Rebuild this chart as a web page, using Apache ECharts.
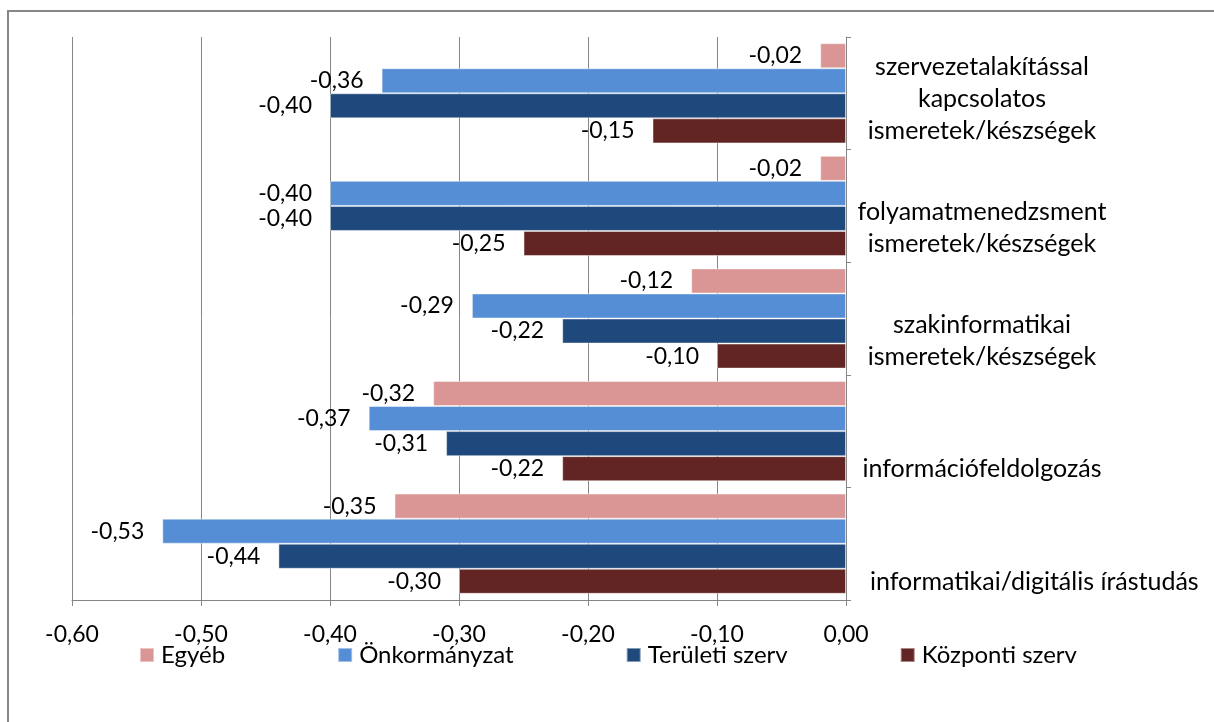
<!DOCTYPE html>
<html>
<head>
<meta charset="utf-8">
<script src="https://cdn.jsdelivr.net/npm/echarts@6/dist/echarts.min.js"></script>
<style>
  html, body { margin: 0; padding: 0; background: #fff; }
  #chart { width: 1214px; height: 722px; }
</style>
</head>
<body>
<div id="chart"></div>
<script>
// Competence areas, listed bottom to top as they sit on the axis
const categories = [
  'informatikai/digitális írástudás',
  'információfeldolgozás',
  'szakinformatikai\nismeretek/készségek',
  'folyamatmenedzsment\nismeretek/készségek',
  'szervezetalakítással\nkapcsolatos\nismeretek/készségek'
];

const seriesNames = ['Egyéb', 'Önkormányzat', 'Területi szerv', 'Központi szerv'];

// Values per category (same order as categories)
const egyeb        = [-0.35, -0.32, -0.12, -0.02, -0.02];
const onkormanyzat = [-0.53, -0.37, -0.29, -0.40, -0.36];
const teruleti     = [-0.44, -0.31, -0.22, -0.40, -0.40];
const kozponti     = [-0.30, -0.22, -0.10, -0.25, -0.15];

const seriesValues = [egyeb, onkormanyzat, teruleti, kozponti];
const colors = ['#DA9694', '#558ED5', '#1F497D', '#632523'];

const FONT = 'Lato';
const fmt = v => v.toFixed(2).replace('.', ',');

const chart = echarts.init(document.getElementById('chart'), null, { renderer: 'canvas' });

// Category labels hang below their band centre, last line at a fixed offset
const catLabelStyle = {
  verticalAlign: 'bottom',
  lineHeight: 32,
  fontFamily: FONT,
  fontSize: 25,
  color: '#000'
};

const yData = categories.map((c, i) => {
  if (i === 0) {
    // the long single-line label is pushed right against the axis
    return {
      value: c,
      textStyle: Object.assign({}, catLabelStyle, { align: 'left', padding: [0, 0, -54, -112] })
    };
  }
  return c;
});

chart.setOption({
  animation: false,
  backgroundColor: '#fff',
  textStyle: { fontFamily: FONT, color: '#000' },
  graphic: [{
    type: 'rect',
    shape: { x: 8, y: 11, width: 1300, height: 800 },
    style: { fill: 'none', stroke: '#878787', lineWidth: 2 },
    silent: true
  }],
  grid: { left: 72, right: 368, top: 37, bottom: 122, containLabel: false },
  legend: {
    data: seriesNames,
    left: 134,
    top: 638,
    itemWidth: 14,
    itemHeight: 14,
    itemGap: 112,
    icon: 'rect',
    textStyle: { fontFamily: FONT, fontSize: 24, color: '#000', padding: [0, 0, 0, 2] }
  },
  xAxis: {
    type: 'value',
    min: -0.6,
    max: 0,
    interval: 0.1,
    axisLine: { show: true, lineStyle: { color: '#868686', width: 1 } },
    axisTick: { show: true, length: 6, lineStyle: { color: '#868686' } },
    splitLine: { show: true, lineStyle: { color: '#868686', width: 1 } },
    axisLabel: {
      margin: 23,
      fontFamily: FONT,
      fontSize: 23,
      color: '#000',
      formatter: v => fmt(v)
    }
  },
  yAxis: {
    type: 'category',
    position: 'right',
    data: yData,
    axisLine: { show: true, onZero: false, lineStyle: { color: '#868686', width: 1 } },
    axisTick: { show: true, length: 5, inside: false, lineStyle: { color: '#868686' } },
    splitLine: { show: false },
    axisLabel: Object.assign({
      margin: 136,
      align: 'center',
      padding: [0, 0, -54, 0],
      interval: 0
    }, catLabelStyle)
  },
  series: seriesNames.map((name, i) => ({
    name: name,
    type: 'bar',
    data: seriesValues[i],
    barGap: '0%',
    barCategoryGap: '11%',
    itemStyle: { color: colors[i], borderColor: 'rgba(255,255,255,0.45)', borderWidth: 1 },
    label: {
      show: true,
      position: 'left',
      distance: 18,
      fontFamily: FONT,
      fontSize: 23,
      color: '#000',
      formatter: p => fmt(p.value)
    }
  }))
});
</script>
</body>
</html>
